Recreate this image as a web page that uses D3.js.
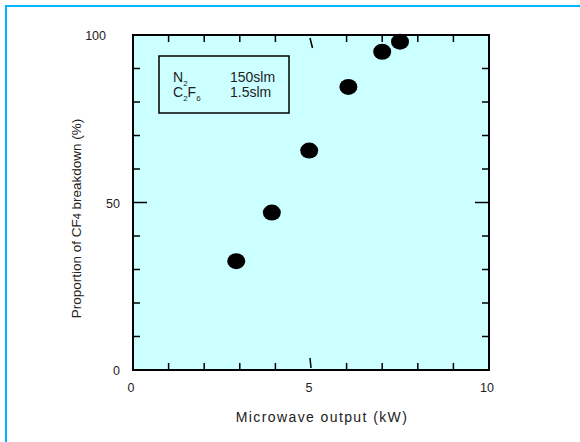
<!DOCTYPE html>
<html>
<head>
<meta charset="utf-8">
<script src="https://cdn.jsdelivr.net/npm/d3@7"></script>
<style>
  body { margin: 0; background: #fff; }
  text { font-family: Arial, "Liberation Sans", sans-serif; fill: #222; }
</style>
</head>
<body>
<svg id="chart" width="580" height="442"></svg>
<script>
// measured points: microwave output (kW) vs CF4 breakdown (%)
var power     = [2.9, 3.9, 4.95, 6.05, 7.0, 7.5];
var breakdown = [32.5, 47, 65.5, 84.5, 95, 98];
var xLabels = [0, 5, 10];
var yLabels = [0, 50, 100];
var legendGas  = ["N2", "C2F6"];
var legendFlow = ["150slm", "1.5slm"];

var svg = d3.select("#chart");
var margin = {top: 35, left: 133, right: 91, bottom: 72};
var width = 580 - margin.left - margin.right,
    height = 442 - margin.top - margin.bottom;

// outer frame (only left and top edges visible)
svg.append("path")
  .attr("d", "M6,442 L6,6 L580,6")
  .attr("fill", "none")
  .attr("stroke", "#00b4ff")
  .attr("stroke-width", 2);

var x = d3.scaleLinear().domain([0, 10]).range([0, width]);
var y = d3.scaleLinear().domain([0, 100]).range([height, 0]);

var g = svg.append("g").attr("transform", "translate(" + margin.left + "," + margin.top + ")");

g.append("rect")
  .attr("width", width).attr("height", height)
  .attr("fill", "#ccffff");

// inward ticks on all four sides
var xt = d3.range(1, 10), yt = d3.range(10, 100, 10);
xt.forEach(function(v) {
  if (v == 5) {
    // the slanted ticks at 5 kW
    g.append("line").attr("x1", x(v) - 1).attr("y1", 3).attr("x2", x(v) + 1.5).attr("y2", 13)
      .attr("stroke", "#000").attr("stroke-width", 1.5);
    g.append("line").attr("x1", x(v) - 1).attr("y1", height - 12).attr("x2", x(v)).attr("y2", height - 2)
      .attr("stroke", "#000").attr("stroke-width", 1.5);
    return;
  }
  g.append("line").attr("x1", x(v)).attr("x2", x(v)).attr("y1", 0).attr("y2", 7)
    .attr("stroke", "#000").attr("stroke-width", 1.5);
  g.append("line").attr("x1", x(v)).attr("x2", x(v)).attr("y1", height).attr("y2", height - 7)
    .attr("stroke", "#000").attr("stroke-width", 1.5);
});
yt.forEach(function(v) {
  var len = v == 50 ? 14 : 7;
  g.append("line").attr("x1", 0).attr("x2", len).attr("y1", y(v)).attr("y2", y(v))
    .attr("stroke", "#000").attr("stroke-width", 1.5);
  g.append("line").attr("x1", width).attr("x2", width - len).attr("y1", y(v)).attr("y2", y(v))
    .attr("stroke", "#000").attr("stroke-width", 1.5);
});

g.append("rect")
  .attr("width", width).attr("height", height)
  .attr("fill", "none").attr("stroke", "#000").attr("stroke-width", 2);

// tick labels
g.selectAll(".xl").data(xLabels).enter().append("text")
  .attr("x", d => x(d) - 2).attr("y", height + 22)
  .attr("text-anchor", "middle").attr("font-size", 12.5)
  .text(d => d);
g.selectAll(".yl").data(yLabels).enter().append("text")
  .attr("x", d => d == 100 ? -27 : -13).attr("y", d => y(d) + 5)
  .attr("text-anchor", "end").attr("font-size", 12.5)
  .text(d => d);

// axis titles
g.append("text")
  .attr("x", width / 2 + 11).attr("y", height + 52)
  .attr("text-anchor", "middle").attr("font-size", 14)
  .attr("letter-spacing", 1.4)
  .text("Microwave output (kW)");
var yt1 = g.append("text")
  .attr("transform", "translate(-52," + (height / 2 + 16) + ") rotate(-90)")
  .attr("text-anchor", "middle").attr("font-size", 13.5);
yt1.append("tspan").text("Proportion of CF");
yt1.append("tspan").attr("font-size", 11).text("4");
yt1.append("tspan").text(" breakdown (%)");

// data points
g.selectAll(".pt").data(power).enter().append("ellipse")
  .attr("cx", d => x(d))
  .attr("cy", (d, i) => y(breakdown[i]))
  .attr("rx", 9).attr("ry", 8)
  .attr("fill", "#000");

// legend box
var lg = g.append("g").attr("transform", "translate(26,21)");
lg.append("rect").attr("width", 130).attr("height", 57)
  .attr("fill", "none").attr("stroke", "#000").attr("stroke-width", 1.5);
legendGas.forEach(function(s, i) {
  var t = lg.append("text").attr("x", 14).attr("y", 26 + i * 15).attr("font-size", 14);
  // chemical formula: digits drawn as subscripts
  s.split(/(\d)/).forEach(function(p, k) {
    if (!p) return;
    if (k % 2) t.append("tspan").attr("font-size", 8).attr("dy", 4).text(p);
    else t.append("tspan").attr("dy", k > 0 ? -4 : 0).text(p);
  });
  lg.append("text").attr("x", 71).attr("y", 26 + i * 15).attr("font-size", 14).text(legendFlow[i]);
});
</script>
</body>
</html>
